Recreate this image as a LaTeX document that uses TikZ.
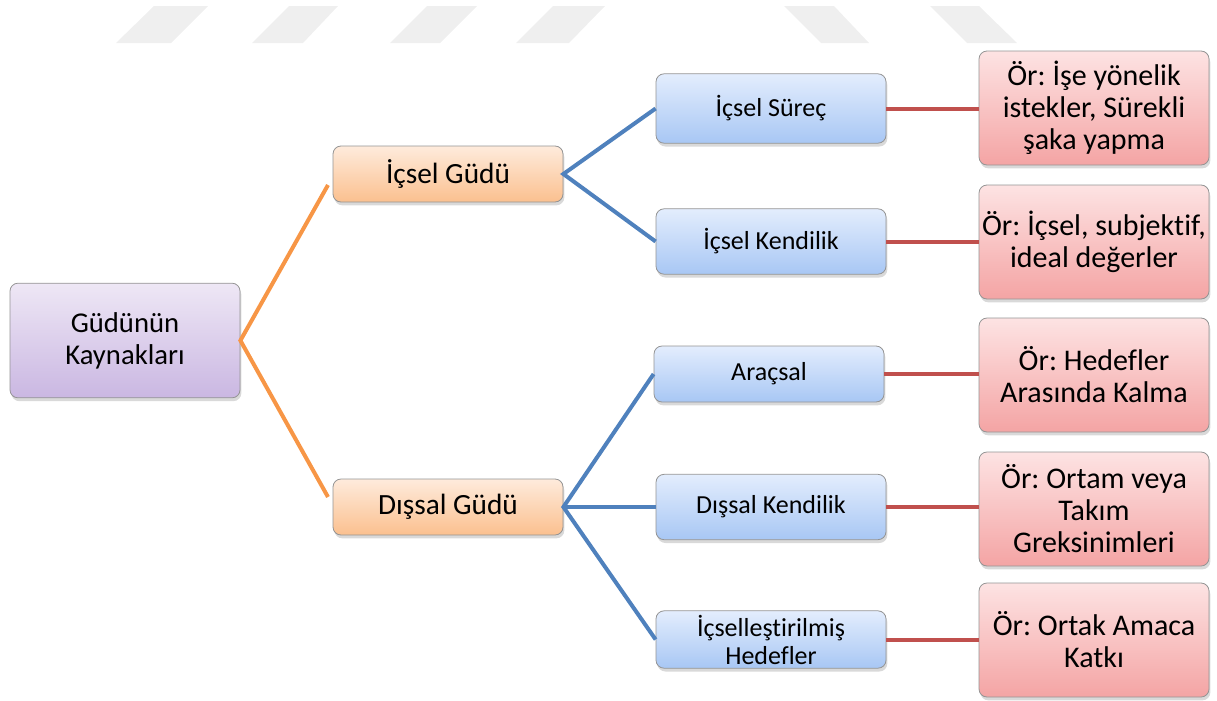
\documentclass[tikz,border=0pt]{standalone}
\usepackage{fontspec}
\setmainfont{Carlito}[Ligatures=NoCommon]
\usetikzlibrary{shadows,calc}
\frenchspacing
\definecolor{wm}{HTML}{EFEFEF}
\definecolor{orl}{HTML}{F79646}
\definecolor{bll}{HTML}{4F81BD}
\definecolor{rdl}{HTML}{C0504D}
\definecolor{pTop}{HTML}{EEE7F5}
\definecolor{pBot}{HTML}{CAB7E2}
\definecolor{oTop}{HTML}{FEEBDC}
\definecolor{oBot}{HTML}{FBC08F}
\definecolor{bTop}{HTML}{E3EDFD}
\definecolor{bBot}{HTML}{A8C7F4}
\definecolor{rTop}{HTML}{FDE3E3}
\definecolor{rBot}{HTML}{F4A4A4}
\tikzset{
  box/.style={rounded corners=6pt, align=center, inner sep=1pt, draw=black!42, line width=0.6pt,
    minimum width=172.5pt, drop shadow={shadow xshift=1pt, shadow yshift=-2.5pt, opacity=0.3, fill=gray}},
  purplebox/.style={box, top color=pTop, bottom color=pBot, font=\fontsize{21.5}{24}\selectfont},
  orangebox/.style={box, top color=oTop, bottom color=oBot, font=\fontsize{22}{24}\selectfont},
  bluebox/.style={box, top color=bTop, bottom color=bBot, font=\fontsize{19.5}{21}\selectfont},
  pinkbox/.style={box, top color=rTop, bottom color=rBot, font=\fontsize{22.5}{24}\selectfont},
  oline/.style={draw=orl, line width=3pt},
  bline/.style={draw=bll, line width=3pt},
  rline/.style={draw=rdl, line width=3pt},
  wmark/.style={fill=wm, draw=none}
}
\begin{document}
\begin{tikzpicture}[x=0.75pt, y=-0.75pt]
\useasboundingbox (0,0) rectangle (1217,700);
% watermark
\fill[wmark] (154,6) -- (208,6) -- (171,43) -- (116,43) -- cycle;
\fill[wmark] (289,6) -- (338,6) -- (303,43) -- (252,43) -- cycle;
\fill[wmark] (427,6) -- (477,6) -- (440,43) -- (390,43) -- cycle;
\fill[wmark] (553,6) -- (605,6) -- (569,43) -- (516,43) -- cycle;
\fill[wmark] (784,6) -- (834,6) -- (869,43) -- (821,43) -- cycle;
\fill[wmark] (930,6) -- (979,6) -- (1017,43) -- (967,43) -- cycle;
% nodes
\node[purplebox, minimum height=86pt] (root) at (125,340.5) {Güdünün\\Kaynakları};
\node[orangebox, minimum height=42pt] (ig) at (448,174) {İçsel Güdü};
\node[orangebox, minimum height=42pt] (dg) at (448,507) {Dışsal Güdü};
\node[bluebox, minimum height=52pt] (isu) at (771,108.5) {İçsel Süreç};
\node[bluebox, minimum height=49pt] (ike) at (771,241.5) {İçsel Kendilik};
\node[bluebox, minimum height=42pt] (ara) at (769,374) {Araçsal};
\node[bluebox, minimum height=49pt] (dke) at (771,507) {Dışsal Kendilik};
\node[bluebox, minimum height=43pt] (ihe) at (771,639.5) {İçselleştirilmiş\\Hedefler};
\node[pinkbox, minimum height=85.5pt] (p1) at (1094,108) {Ör: İşe yönelik\\istekler, Sürekli\\şaka yapma};
\node[pinkbox, minimum height=85.5pt] (p2) at (1094,242) {Ör: İçsel, subjektif,\\ideal değerler};
\node[pinkbox, minimum height=85.5pt] (p3) at (1094,375) {Ör: Hedefler\\Arasında Kalma};
\node[pinkbox, minimum height=85.5pt] (p4) at (1094,509) {Ör: Ortam veya\\Takım\\Greksinimleri};
\node[pinkbox, minimum height=85.5pt] (p5) at (1094,640) {Ör: Ortak Amaca\\Katkı};
% connector ends
\coordinate (o1) at (328,185);
\coordinate (o2) at (328,497);
% connectors
\draw[oline] (o1) -- (root.east) -- (o2);
\draw[bline] (isu.west) -- (ig.east) -- (ike.west);
\draw[bline] (ara.west) -- (dg.east) -- (ihe.west);
\draw[bline] (dg.east) -- (dke.west);
\draw[rline] (isu.east) -- (isu.east -| p1.west);
\draw[rline] (ike.east) -- (ike.east -| p2.west);
\draw[rline] (ara.east) -- (ara.east -| p3.west);
\draw[rline] (dke.east) -- (dke.east -| p4.west);
\draw[rline] (ihe.east) -- (ihe.east -| p5.west);
\end{tikzpicture}
\end{document}
